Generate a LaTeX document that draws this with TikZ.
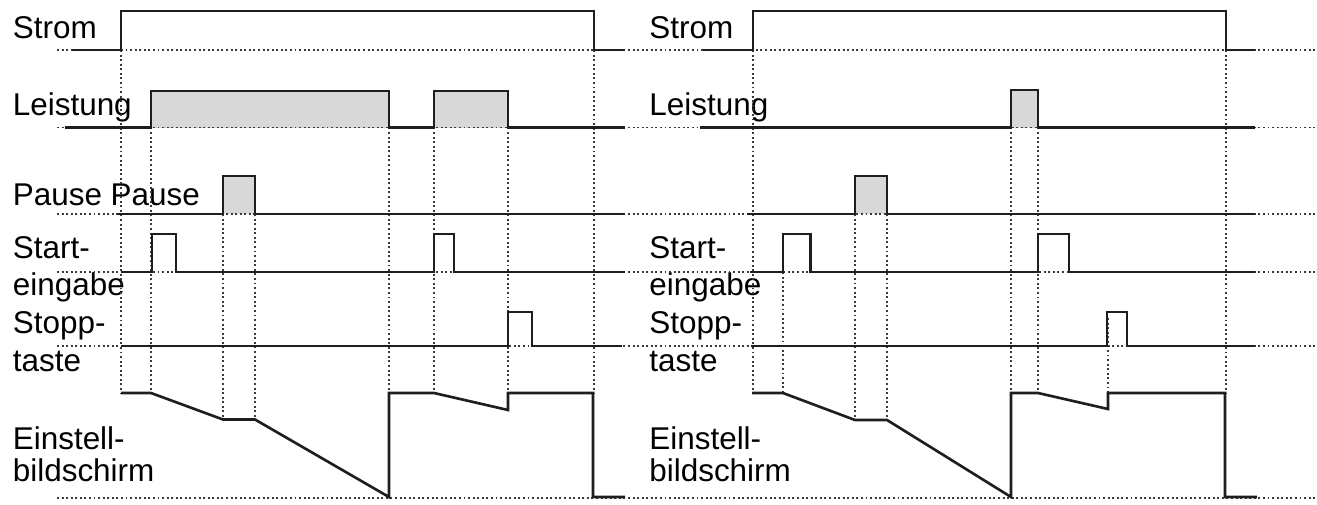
\documentclass[tikz,border=0pt]{standalone}
\usepackage{fontspec}
\setmainfont{Liberation Sans}
\usepackage{tikz}
\usepackage{xcolor}
\usetikzlibrary{positioning}
\definecolor{SigBlack}{HTML}{1E1E1E}
\definecolor{GuideGray}{HTML}{3A3A3A}
\definecolor{PulseGray}{HTML}{D8D8D8}
\tikzset{
    % Label styles
    lbl/.style={
        anchor=base west,
        inner sep=0pt,
        font=\fontsize{17.9pt}{20pt}\selectfont
    },
    % Line styles
    sigline/.style={
        draw=SigBlack,
        line width=1.5pt
    },
    guideline/.style={
        draw=GuideGray,
        line width=1.1pt,
        dash pattern=on 1.1pt off 1.5pt
    },
    pulsefill/.style={
        fill=PulseGray,
        draw=none
    }
}
\begin{document}
\begin{tikzpicture}[x=0.02cm, y=-0.02cm]
    \useasboundingbox (0,0) rectangle (1317,504);

    % labels, left
    \node[lbl] (stromL) at (12.5,38.3) {Strom};
    \node[lbl] (leistL) at (12.5,115) {Leistung};
    \node[lbl] (pauseL) at (12.5,205) {Pause Pause};
    \node[lbl] (startL) at (12.5,258.3) {Start-};
    \node[lbl] (startLb) at (12.5,295) {eingabe};
    \node[lbl] (stoppL) at (12.5,333) {Stopp-};
    \node[lbl] (stoppLb) at (12.5,371.7) {taste};
    \node[lbl] (einstL) at (12.5,449) {Einstell-};
    \node[lbl] (einstLb) at (12.5,481.7) {bildschirm};

    % labels, right
    \node[lbl] (stromR) at (649,38.3) {Strom};
    \node[lbl] (leistR) at (649,115) {Leistung};
    \node[lbl] (startR) at (649,258.3) {Start-};
    \node[lbl] (startRb) at (649,295) {eingabe};
    \node[lbl] (stoppR) at (649,333) {Stopp-};
    \node[lbl] (stoppRb) at (649,371.7) {taste};
    \node[lbl] (einstR) at (649,449) {Einstell-};
    \node[lbl] (einstRb) at (649,481.7) {bildschirm};

    % gray pulses
    \fill[pulsefill] (151,91) rectangle (389,127.5);
    \fill[pulsefill] (434,91) rectangle (508,127.5);
    \fill[pulsefill] (223,176) rectangle (255,214);
    \fill[pulsefill] (1011,90) rectangle (1038,127.5);
    \fill[pulsefill] (855,176) rectangle (887,214);

    % dotted baselines
    \foreach \y in {50,127.5,214,272,346,498}
        \draw[guideline] (57,\y) -- (1317,\y);

    % dotted time marks, left
    \draw[guideline] (121,50) -- (121,393);
    \draw[guideline] (151,127.5) -- (151,393);
    \draw[guideline] (223,214) -- (223,419.5);
    \draw[guideline] (255,214) -- (255,419.5);
    \draw[guideline] (389,127.5) -- (389,430);
    \draw[guideline] (434,127.5) -- (434,393);
    \draw[guideline] (508,127.5) -- (508,393);
    \draw[guideline] (594,50) -- (594,393);

    % dotted time marks, right
    \draw[guideline] (753,50) -- (753,393);
    \draw[guideline] (783,272) -- (783,393);
    \draw[guideline] (855,214) -- (855,420);
    \draw[guideline] (887,214) -- (887,420);
    \draw[guideline] (1011,127.5) -- (1011,393);
    \draw[guideline] (1038,127.5) -- (1038,393);
    \draw[guideline] (1108,318) -- (1108,393);
    \draw[guideline] (1226,50) -- (1226,393);

    % signals, left
    \draw[sigline] (72,50) -- (121,50) -- (121,11) -- (594,11) -- (594,50) -- (625,50);
    \draw[sigline] (65,127.5) -- (151,127.5) -- (151,91) -- (389,91) -- (389,127.5) -- (434,127.5) -- (434,91) -- (508,91) -- (508,127.5) -- (625,127.5);
    \draw[sigline] (117,214) -- (223,214) -- (223,176) -- (255,176) -- (255,214) -- (625,214);
    \draw[sigline] (121,272) -- (152,272) -- (152,234) -- (176,234) -- (176,272) -- (434,272) -- (434,234) -- (454,234) -- (454,272) -- (625,272);
    \draw[sigline] (121,346) -- (508,346) -- (508,312) -- (532,312) -- (532,346) -- (622,346);
    \draw[sigline] (121,393) -- (151,393) -- (223,419.5) -- (255,419.5) -- (389,497) -- (389,393) -- (434,393) -- (508,410) -- (508,393) -- (593,393) -- (593,497) -- (625,497);

    % signals, right
    \draw[sigline] (703,50) -- (753,50) -- (753,11) -- (1226,11) -- (1226,50) -- (1255,50);
    \draw[sigline] (700,127.5) -- (1011,127.5) -- (1011,90) -- (1038,90) -- (1038,127.5) -- (1255,127.5);
    \draw[sigline] (747,214) -- (855,214) -- (855,176) -- (887,176) -- (887,214) -- (1255,214);
    \draw[sigline] (750,272) -- (783,272) -- (783,234) -- (810.5,234) -- (810.5,272) -- (1038,272) -- (1038,234) -- (1069,234) -- (1069,272) -- (1255,272);
    \draw[sigline] (751,346) -- (1107,346) -- (1107,312) -- (1127,312) -- (1127,346) -- (1255,346);
    \draw[sigline] (752,393) -- (783,393) -- (855,420) -- (887,420) -- (1011,497) -- (1011,393) -- (1038,393) -- (1108,409) -- (1108,393) -- (1225,393) -- (1225,497) -- (1257,497);
\end{tikzpicture}
\end{document}
